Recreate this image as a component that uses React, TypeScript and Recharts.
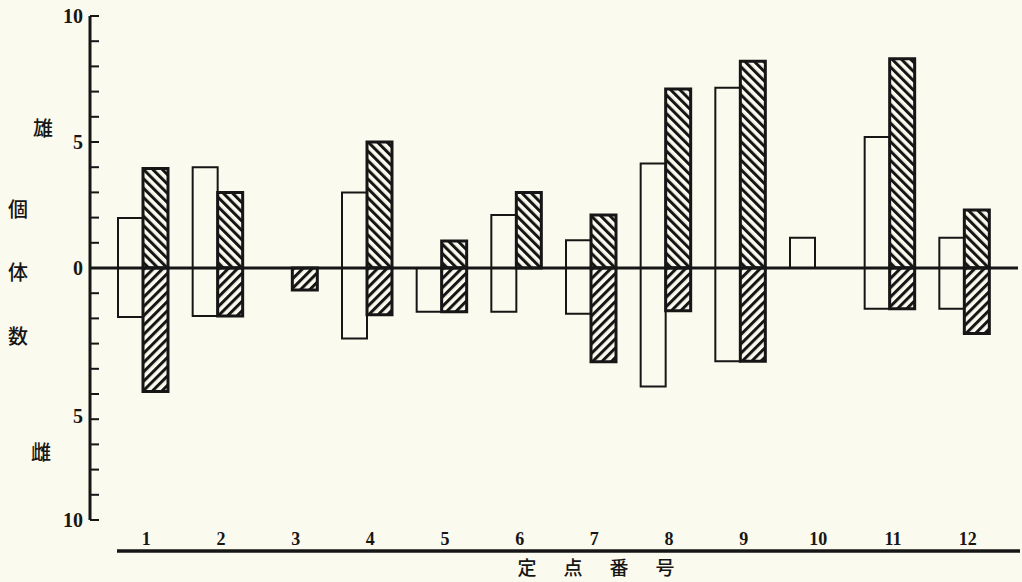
import React from "react";
import { BarChart, Bar, XAxis, YAxis, ReferenceLine, Label } from "recharts";

// 定点番号ごとの個体数（上: 雄, 下: 雌）
const stations = ["1", "2", "3", "4", "5", "6", "7", "8", "9", "10", "11", "12"];
const maleOpen = [1.98, 4.0, 0, 3.0, 0, 2.1, 1.1, 4.15, 7.15, 1.2, 5.2, 1.2];
const maleHatched = [3.95, 3.0, 0, 5.0, 1.07, 3.0, 2.1, 7.1, 8.2, 0, 8.3, 2.3];
const femaleOpen = [1.94, 1.9, 0, 2.8, 1.74, 1.74, 1.82, 4.7, 3.7, 0, 1.62, 1.62];
const femaleHatched = [4.9, 1.9, 0.87, 1.86, 1.74, 0, 3.72, 1.7, 3.7, 0, 1.62, 2.6];

const yTicks = [-10, -9, -8, -7, -6, -5, -4, -3, -2, -1, 0, 1, 2, 3, 4, 5, 6, 7, 8, 9, 10];
const yTitle = ["雄", "個", "体", "数", "雌"];
const xTitle = ["定", "点", "番", "号"];

const data = stations.map((name, i) => ({
  name,
  mo: maleOpen[i],
  fo: -femaleOpen[i],
  mh: maleHatched[i],
  fh: -femaleHatched[i],
}));

const BG = "#fbfaee";
const INK = "#161616";
const SERIF = "'Liberation Serif', 'DejaVu Serif', serif";
const CJK = "'Noto Sans CJK JP', sans-serif";

function YTick(props: any) {
  const { x, y, payload } = props;
  const v = payload.value;
  return (
    <g>
      <line x1={x} x2={x + 9} y1={y} y2={y} stroke={INK} strokeWidth={2} />
      {v % 5 === 0 && (
        <text
          x={x - 7}
          y={y}
          dy={v === -5 ? 29 : 7}
          textAnchor="end"
          fontFamily={SERIF}
          fontSize={20}
          fontWeight={700}
          fill={INK}
        >
          {Math.abs(v)}
        </text>
      )}
    </g>
  );
}

function XTick(props: any) {
  const { x, y, payload } = props;
  return (
    <text
      x={x + 3}
      y={y + 25}
      textAnchor="middle"
      fontFamily={SERIF}
      fontSize={18}
      fontWeight={700}
      fill={INK}
    >
      {payload.value}
    </text>
  );
}

function YTitle(props: any) {
  const vb = props.viewBox;
  const pos = [
    [43, 111],
    [18, 192],
    [18, 255],
    [18, 319],
    [41, 435],
  ];
  return (
    <g>
      {yTitle.map((t, i) => (
        <text
          key={t}
          x={vb.x + pos[i][0]}
          y={vb.y + pos[i][1]}
          textAnchor="middle"
          dominantBaseline="central"
          fontFamily={CJK}
          fontSize={20}
          fontWeight={500}
          fill={INK}
        >
          {t}
        </text>
      ))}
    </g>
  );
}

function XTitle(props: any) {
  const vb = props.viewBox;
  return (
    <g>
      <line
        x1={vb.x + 27}
        x2={vb.x + vb.width + 2}
        y1={vb.y + 31}
        y2={vb.y + 31}
        stroke={INK}
        strokeWidth={3.5}
      />
      {xTitle.map((t, i) => (
        <text
          key={t}
          x={vb.x + 437 + i * 46}
          y={vb.y + 46}
          textAnchor="middle"
          dominantBaseline="central"
          fontFamily={CJK}
          fontSize={19}
          fontWeight={500}
          fill={INK}
        >
          {t}
        </text>
      ))}
    </g>
  );
}

export default function App() {
  return (
    <div style={{ position: "fixed", left: 0, top: 0, width: 1022, height: 582, background: BG }}>
      <BarChart
        width={1022}
        height={582}
        data={data}
        stackOffset="sign"
        barSize={25}
        barGap={0}
        margin={{ top: 16, right: 4, bottom: 32, left: 0 }}
      >
        <defs>
          <pattern id="hatchM" patternUnits="userSpaceOnUse" width={6.6} height={6.6} patternTransform="rotate(-45)">
            <rect width={6.6} height={6.6} fill={BG} />
            <rect width={3} height={6.6} fill={INK} />
          </pattern>
          <pattern id="hatchF" patternUnits="userSpaceOnUse" width={6.6} height={6.6} patternTransform="rotate(45)">
            <rect width={6.6} height={6.6} fill={BG} />
            <rect width={3} height={6.6} fill={INK} />
          </pattern>
        </defs>
        <XAxis
          dataKey="name"
          axisLine={false}
          tickLine={false}
          tickSize={0}
          tickMargin={0}
          height={30}
          padding={{ left: 16, right: 16 }}
          tick={<XTick />}
          interval={0}
        >
          <Label content={<XTitle />} />
        </XAxis>
        <YAxis
          type="number"
          domain={[-10, 10]}
          ticks={yTicks}
          interval={0}
          width={90}
          tickSize={0}
          tickMargin={0}
          tick={<YTick />}
          axisLine={{ stroke: INK, strokeWidth: 3 }}
        >
          <Label content={<YTitle />} />
        </YAxis>
        <Bar dataKey="mo" stackId="open" fill={BG} stroke={INK} strokeWidth={2} isAnimationActive={false} />
        <Bar dataKey="fo" stackId="open" fill={BG} stroke={INK} strokeWidth={2} isAnimationActive={false} />
        <Bar dataKey="mh" stackId="hatch" fill="url(#hatchM)" stroke={INK} strokeWidth={3} isAnimationActive={false} />
        <Bar dataKey="fh" stackId="hatch" fill="url(#hatchF)" stroke={INK} strokeWidth={3} isAnimationActive={false} />
        <ReferenceLine y={0} stroke={INK} strokeWidth={2.8} />
      </BarChart>
    </div>
  );
}
